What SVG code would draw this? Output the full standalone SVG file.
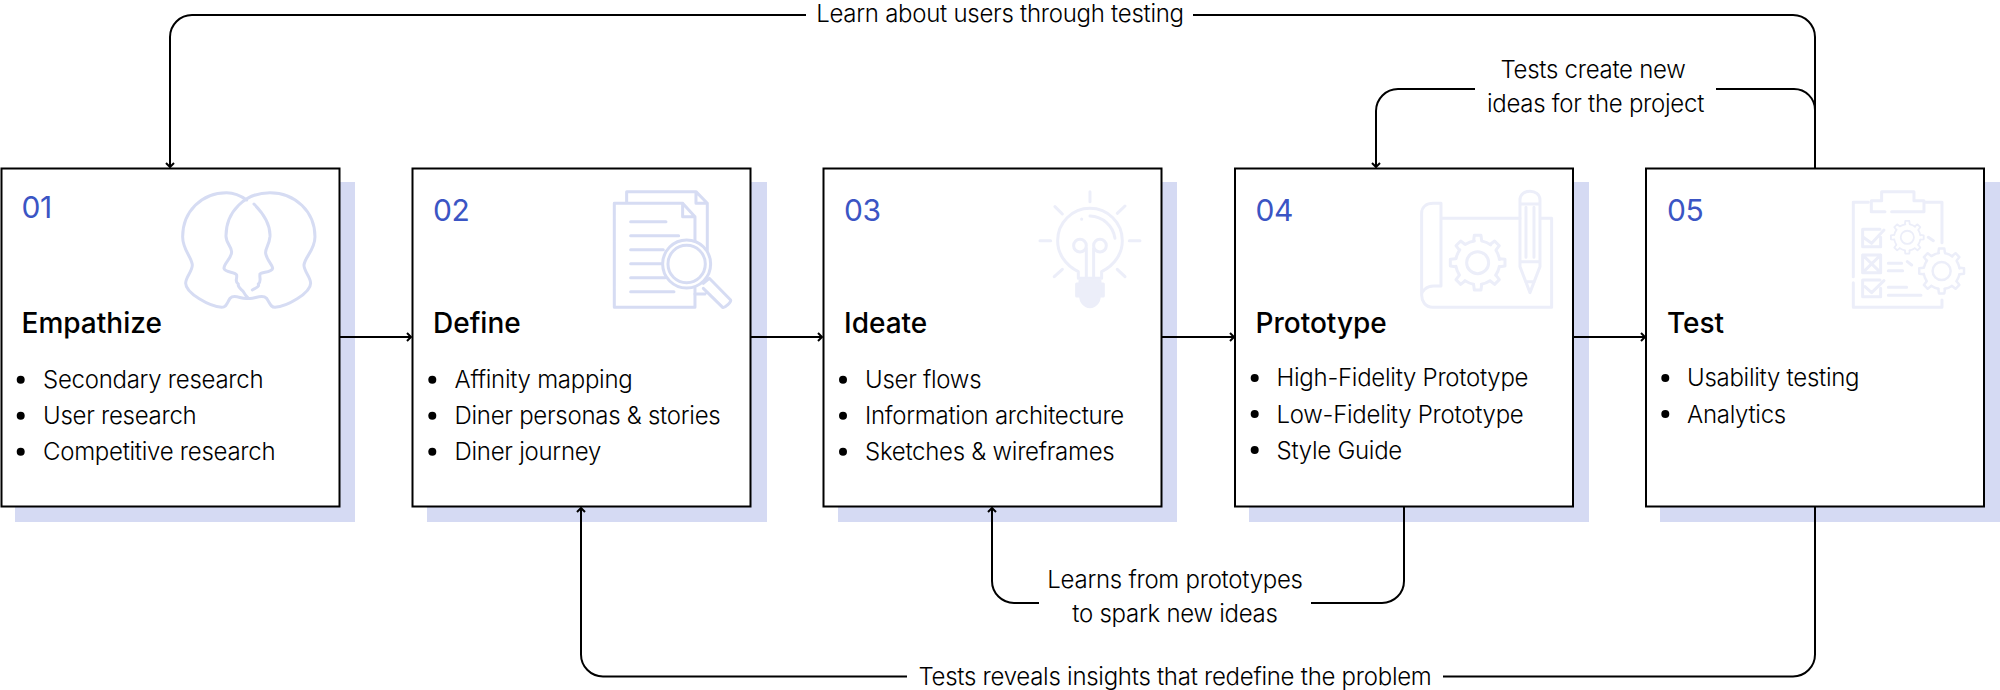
<svg xmlns="http://www.w3.org/2000/svg" width="2000" height="690" viewBox="0 0 2000 690">
<style>
text{font-family:Inter,"Noto Sans","Liberation Sans",sans-serif;fill:#000}
.num{font-size:30px;fill:#3b55c4;letter-spacing:-.4px;font-weight:400}
.title{font-size:28px;font-weight:500}
.item,.lab{font-size:24px;letter-spacing:-.27px;font-weight:350}
.lab{text-anchor:middle}
.shadow{fill:#d5daf3}
.box{fill:#fff;stroke:#000;stroke-width:2}
.conn{fill:none;stroke:#000;stroke-width:2}
.ico{fill:none;stroke-width:9;stroke-linejoin:round;stroke-linecap:round}
.a{stroke:#d6dcf3}
.b{stroke:#eceef9}
</style>
<defs>
<marker id="arr" markerWidth="10" markerHeight="10" refX="7.5" refY="5" orient="auto" markerUnits="userSpaceOnUse"><path d="M3.500,1 L7.500,5 L3.500,9" fill="none" stroke="#000" stroke-width="2"/></marker>
<g id="gear">
<circle r="66" fill="none" stroke-dasharray="27.8 24" stroke-dashoffset="-12"/>
<circle r="33" fill="none"/>
<path id="t" fill="none" d="M-12,-66 L-10,-82 H10 L12,-66"/>
<path fill="none" d="M-12,-66 L-10,-82 H10 L12,-66" transform="rotate(45)"/>
<path fill="none" d="M-12,-66 L-10,-82 H10 L12,-66" transform="rotate(90)"/>
<path fill="none" d="M-12,-66 L-10,-82 H10 L12,-66" transform="rotate(135)"/>
<path fill="none" d="M-12,-66 L-10,-82 H10 L12,-66" transform="rotate(180)"/>
<path fill="none" d="M-12,-66 L-10,-82 H10 L12,-66" transform="rotate(225)"/>
<path fill="none" d="M-12,-66 L-10,-82 H10 L12,-66" transform="rotate(270)"/>
<path fill="none" d="M-12,-66 L-10,-82 H10 L12,-66" transform="rotate(315)"/>
</g>
</defs>
<rect width="2000" height="690" fill="#fff"/>

<g id="shadows">
<rect class="shadow" x="15" y="182" width="340" height="340"/>
<rect class="shadow" x="427" y="182" width="340" height="340"/>
<rect class="shadow" x="838" y="182" width="339" height="340"/>
<rect class="shadow" x="1249" y="182" width="340" height="340"/>
<rect class="shadow" x="1660" y="182" width="340" height="340"/>
</g>

<g id="node1">
<rect class="box" x="1.500" y="168.500" width="338" height="338"/>
<text class="num" x="21.500" y="218">01</text>
<text class="title" x="21.500" y="333">Empathize</text>
<circle cx="20.700" cy="379.700" r="4"/><text class="item" x="43" y="387.500">Secondary research</text>
<circle cx="20.700" cy="415.700" r="4"/><text class="item" x="43" y="423.500">User research</text>
<circle cx="20.700" cy="451.700" r="4"/><text class="item" x="43" y="459.500">Competitive research</text>
<g transform="translate(0,150) scale(.3333)" class="ico a">
<path d="M810,128 C735,128 678,185 678,258 C678,280 695,290 695,305 C695,325 672,340 672,355 C675,368 705,365 710,375 C712,388 703,395 715,402 C712,412 725,418 730,425 C735,435 740,440 745,445 C760,450 785,430 800,445 C810,460 812,472 825,472 C860,470 932,430 932,400 C932,380 912,365 912,345 C915,320 945,300 945,260 C945,185 885,128 810,128 Z"/>
<path d="M740,150 C720,135 700,128 680,128 C605,128 548,185 548,260 C548,300 575,320 577,345 C577,365 557,380 557,400 C557,430 630,470 665,472 C680,472 680,460 690,445 C705,430 725,450 745,445"/>
<path d="M762,162 C795,195 812,225 810,260 C808,285 795,295 797,310 C800,330 818,345 818,355 C815,368 785,365 780,372 C778,385 785,395 775,402 C780,410 765,415 757,420"/>
</g>
</g>

<g id="node2">
<rect class="box" x="412.500" y="168.500" width="338" height="338"/>
<text class="num" x="433" y="221">02</text>
<text class="title" x="433" y="333">Define</text>
<circle cx="432.300" cy="379.700" r="4"/><text class="item" x="454.500" y="387.500">Affinity mapping</text>
<circle cx="432.300" cy="415.700" r="4"/><text class="item" x="454.500" y="423.500">Diner personas &amp; stories</text>
<circle cx="432.300" cy="451.700" r="4"/><text class="item" x="454.500" y="459.500">Diner journey</text>
<g transform="translate(400,150) scale(.3333)" class="ico a">
<path d="M680,157 V125 H888 L922,160 V300 M888,125 V160 H922"/>
<path d="M885,270 V200 L848,160 H643 V472 H885 V415 M848,160 V200 H885"/>
<path d="M692,215 H798 M692,257 H836 M692,299 H790 M692,341 H785 M692,383 H795 M692,425 H822"/>
<circle cx="860" cy="342" r="72"/><circle cx="860" cy="342" r="56"/>
<path d="M910,400 L928,385 L992,450 C995,455 975,475 968,472 L910,415 M885,432 H915"/>
</g>
</g>

<g id="node3">
<rect class="box" x="823.500" y="168.500" width="338" height="338"/>
<text class="num" x="844" y="221">03</text>
<text class="title" x="844" y="333">Ideate</text>
<circle cx="843" cy="379.700" r="4"/><text class="item" x="865" y="387.500">User flows</text>
<circle cx="843" cy="415.700" r="4"/><text class="item" x="865" y="423.500">Information architecture</text>
<circle cx="843" cy="451.700" r="4"/><text class="item" x="865" y="459.500">Sketches &amp; wireframes</text>
<g transform="translate(810,150) scale(.3333)" class="ico b">
<path d="M840,125 V155 M735,170 L757,192 M945,168 L922,190 M690,272 H722 M958,272 H990 M733,380 L757,358 M945,380 L922,358"/>
<path d="M805,385 H875 M805,385 V365 C765,345 743,310 743,272 A97,97 0 0 1 937,272 C937,310 915,345 875,365 V385"/>
<path d="M840,198 A78,78 0 0 1 915,265 M815,207 V208"/>
<circle cx="810" cy="287" r="19"/><circle cx="870" cy="287" r="19"/>
<path d="M829,295 V382 M851,295 V382"/>
<path d="M810,392 H870 V402 H880 V438 H868 A28,32 0 0 1 812,438 H800 V402 H810 Z" fill="#eceef9"/>
</g>
</g>

<g id="node4">
<rect class="box" x="1235" y="168.500" width="338" height="338"/>
<text class="num" x="1255.500" y="221">04</text>
<text class="title" x="1255.500" y="333">Prototype</text>
<circle cx="1254.700" cy="378" r="4"/><text class="item" x="1276.500" y="386">High-Fidelity Prototype</text>
<circle cx="1254.700" cy="414" r="4"/><text class="item" x="1276.500" y="422.800">Low-Fidelity Prototype</text>
<circle cx="1254.700" cy="450" r="4"/><text class="item" x="1276.500" y="458.800">Style Guide</text>
<g transform="translate(1220,150) scale(.3333)" class="ico b">
<path d="M663,205 H900 M962,205 H995 V472 H638 C615,472 605,452 605,435 V190 C605,170 620,160 640,160 H663 V408 H640 C618,408 605,425 605,435"/>
<use href="#gear" transform="translate(773,338)"/>
<path d="M900,150 C900,115 960,115 960,150 V350 L930,428 L900,350 Z M900,162 H960 M900,335 H960 M918,172 V322 M942,172 V322 M917,395 H943"/>
</g>
</g>

<g id="node5">
<rect class="box" x="1646" y="168.500" width="338" height="338"/>
<text class="num" x="1667" y="221">05</text>
<text class="title" x="1667" y="333">Test</text>
<circle cx="1665.300" cy="378" r="4"/><text class="item" x="1687" y="386">Usability testing</text>
<circle cx="1665.300" cy="414" r="4"/><text class="item" x="1687" y="422.800">Analytics</text>
<g transform="translate(1620,150) scale(.3333)" class="ico b">
<path d="M745,157 H700 V380 M700,398 V472 H966 V450 M918,157 H966 V278"/>
<path d="M795,185 H754 V152 H785 V125 H882 V152 H912 V185 H815"/>
<path d="M780,238 H728 V290 H782 V262 M730,262 L755,280 L792,240"/>
<path d="M728,315 H782 V368 H728 Z M728,315 L782,368 M782,315 L728,368"/>
<path d="M780,390 H728 V440 H782 V415 M735,410 L755,428 L792,392"/>
<path d="M805,340 H845 M805,362 H848 M805,412 H860 M805,436 H903 M862,335 L875,345 M925,262 L940,272"/>
<use href="#gear" transform="translate(862,262) scale(.6)"/>
<use href="#gear" transform="translate(965,363) scale(.82)"/>
</g>
</g>

<g id="connectors">
<path class="conn" d="M339,337 H411" marker-end="url(#arr)"/>
<path class="conn" d="M751,337 H822" marker-end="url(#arr)"/>
<path class="conn" d="M1162,337 H1234" marker-end="url(#arr)"/>
<path class="conn" d="M1573,337 H1645" marker-end="url(#arr)"/>
<path class="conn" d="M1815,168 V37 A22,22 0 0 0 1793,15 H1193 M806,15 H192 A22,22 0 0 0 170,37 V167" marker-end="url(#arr)"/>
<path class="conn" d="M1815,110 A21,21 0 0 0 1794,89 H1716 M1475,89 H1398 A22,22 0 0 0 1376,111 V167" marker-end="url(#arr)"/>
<path class="conn" d="M1404,506 V581 A22,22 0 0 1 1382,603 H1311 M1039,603 H1014 A22,22 0 0 1 992,581 V508" marker-end="url(#arr)"/>
<path class="conn" d="M1815,506 V654.500 A22,22 0 0 1 1793,676.500 H1443 M907,676.500 H603 A22,22 0 0 1 581,654.500 V508" marker-end="url(#arr)"/>
</g>

<g id="labels">
<text class="lab" x="1000" y="22">Learn about users through testing</text>
<text class="lab" x="1593" y="78">Tests create new</text>
<text class="lab" x="1595.500" y="112">ideas for the project</text>
<text class="lab" x="1175" y="588">Learns from prototypes</text>
<text class="lab" x="1175" y="622">to spark new ideas</text>
<text class="lab" x="1175" y="684.500">Tests reveals insights that redefine the problem</text>
</g>
</svg>
